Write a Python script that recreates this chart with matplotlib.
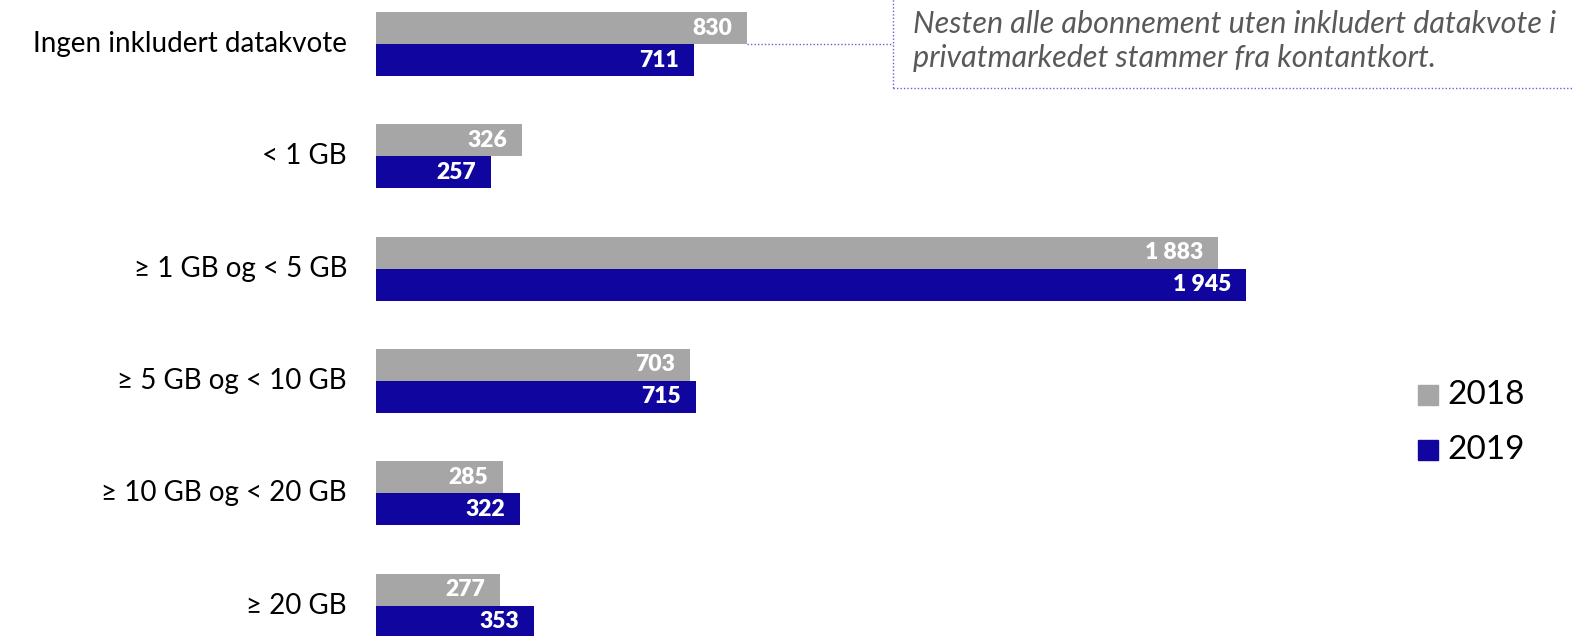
import matplotlib
matplotlib.use("Agg")
import matplotlib.pyplot as plt
from matplotlib.patches import Rectangle
from matplotlib.lines import Line2D

categories = ["Ingen inkludert datakvote", "< 1 GB", "≥ 1 GB og < 5 GB",
              "≥ 5 GB og < 10 GB", "≥ 10 GB og < 20 GB", "≥ 20 GB"]
v2018 = [830, 326, 1883, 703, 285, 277]
v2019 = [711, 257, 1945, 715, 322, 353]
series_names = ["2018", "2019"]
note = "Nesten alle abonnement uten inkludert datakvote i\nprivatmarkedet stammer fra kontantkort."

C18 = "#a6a6a6"
C19 = "#10069f"
FONT = ["Lato", "DejaVu Sans"]
plt.rcParams["font.family"] = FONT

W, H = 1573, 636
fig = plt.figure(figsize=(W/100, H/100), dpi=100)
ax = fig.add_axes([376/W, 0, 1 - 376/W, 1])

px_per_unit = (1246 - 376) / 1945
ax.set_xlim(0, (W - 376) / px_per_unit)
spacing = 112.3
ax.set_ylim((636 - 44) / spacing, -44 / spacing)
bh = 32 / spacing

ys = list(range(len(categories)))
ax.barh([y - bh/2 for y in ys], v2018, height=bh, color=C18, label=series_names[0])
ax.barh([y + bh/2 for y in ys], v2019, height=bh, color=C19, label=series_names[1])

def fmt(v):
    return f"{v:,}".replace(",", " ")

pad = 15 / px_per_unit
for y, a, b in zip(ys, v2018, v2019):
    ax.text(a - pad, y - bh/2, fmt(a), ha="right", va="center", color="white",
            fontsize=16.5, fontweight="heavy")
    ax.text(b - pad, y + bh/2, fmt(b), ha="right", va="center", color="white",
            fontsize=16.5, fontweight="heavy")
    ax.text(-29 / px_per_unit, y, categories[ys.index(y)], ha="right", va="center",
            color="black", fontsize=20, clip_on=False)

ax.axis("off")

# annotation box (dotted)
box_col = "#6a5fd0"
x0 = 893 / W
yb = 1 - 88 / H
fig.add_artist(Line2D([x0, x0], [yb, 1.01], transform=fig.transFigure, color=box_col,
                      lw=1, linestyle=(0, (1, 1.5))))
fig.add_artist(Line2D([x0, 1.01], [yb, yb], transform=fig.transFigure, color=box_col,
                      lw=1, linestyle=(0, (1, 1.5))))
fig.add_artist(Line2D([747 / W, x0], [1 - 44 / H, 1 - 44 / H], transform=fig.transFigure,
                      color=box_col, lw=1, linestyle=(0, (1, 1.5))))
fig.text(913 / W, 1 - 41 / H, note, ha="left", va="center", color="#595959",
         fontsize=22, style="italic", linespacing=1.3)

# legend
for i, (name, col) in enumerate(zip(series_names, [C18, C19])):
    yc = 395 + i * 55
    fig.add_artist(Rectangle((1418 / W, 1 - (yc + 10) / H), 20 / W, 20 / H,
                             transform=fig.transFigure, color=col))
    fig.text(1447 / W, 1 - yc / H, name, ha="left", va="center", fontsize=24, color="black")

fig.savefig("out.png", dpi=100)
